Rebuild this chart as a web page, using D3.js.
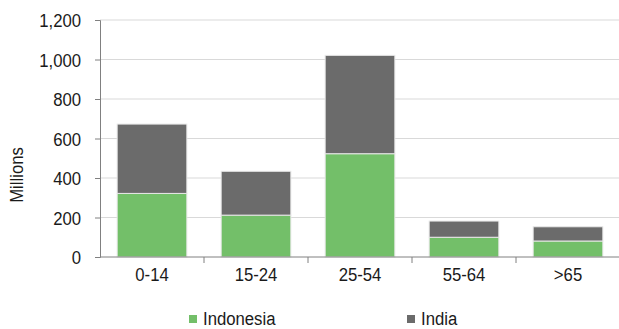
<!DOCTYPE html>
<html>
<head>
<meta charset="utf-8">
<script src="https://cdn.jsdelivr.net/npm/d3@7"></script>
<style>
  body { margin: 0; background: #fff; }
  svg text { font-family: 'Liberation Sans', Arial, sans-serif; font-size: 19px; fill: #1a1a1a; }
</style>
</head>
<body>
<svg id="chart"></svg>
<script>
const categories = ['0-14', '15-24', '25-54', '55-64', '>65'];
const indonesia = [322, 212, 523, 100, 81];
const india = [351, 222, 498, 82, 72];
const seriesNames = ['Indonesia', 'India'];
const yTicks = [0, 200, 400, 600, 800, 1000, 1200];

const colors = { Indonesia: '#73bf69', India: '#6b6b6b' };

const width = 619, height = 329;
const margin = { top: 20, right: 0, bottom: 72, left: 100 };
const innerW = 520;
const innerH = height - margin.top - margin.bottom;
const narrow = 0.88; // squeeze text to mimic a condensed face

const svg = d3.select('#chart').attr('width', width).attr('height', height);
const chart = svg.append('g').attr('transform', `translate(${margin.left},${margin.top})`);

const table = categories.map((c, i) => ({ cat: c, Indonesia: indonesia[i], India: india[i] }));
const stacked = d3.stack().keys(seriesNames)(table);

const x = d3.scaleBand().domain(categories).range([0, innerW]).paddingInner(0.33).paddingOuter(0.165);
const y = d3.scaleLinear().domain([0, 1200]).range([innerH, 0]);

// gridlines
chart.append('g').selectAll('line')
  .data(yTicks.filter(d => d > 0))
  .join('line')
    .attr('x1', 0).attr('x2', innerW)
    .attr('y1', d => y(d)).attr('y2', d => y(d))
    .attr('stroke', '#d9d9d9').attr('stroke-width', 1);

// bars
chart.append('g').selectAll('g')
  .data(stacked)
  .join('g')
    .attr('fill', d => colors[d.key])
  .selectAll('rect')
  .data(d => d)
  .join('rect')
    .attr('x', d => x(d.data.cat))
    .attr('width', x.bandwidth())
    .attr('y', d => y(d[1]))
    .attr('height', d => y(d[0]) - y(d[1]))
    .attr('stroke', '#e8e8e8').attr('stroke-width', 1);

// y axis
const yAxis = d3.axisLeft(y).tickValues(yTicks).tickSize(5)
  .tickFormat(d3.format(','));
const yAxisG = chart.append('g').call(yAxis);
yAxisG.select('.domain').attr('stroke', '#808080');
yAxisG.selectAll('.tick line').attr('stroke', '#808080');
yAxisG.selectAll('text')
    .attr('x', null)
    .attr('dy', '0.35em')
    .attr('fill', null)
    .attr('transform', `translate(-19,0) scale(${narrow},1)`);
yAxisG.attr('font-family', null).attr('font-size', null);

// x axis
const xAxisG = chart.append('g').attr('transform', `translate(0,${innerH})`);
xAxisG.append('line').attr('x1', 0).attr('x2', innerW).attr('y1', 0).attr('y2', 0).attr('stroke', '#808080');
xAxisG.selectAll('.sep')
  .data(categories.slice(1))
  .join('line')
    .attr('class', 'sep')
    .attr('x1', d => x(d) - x.step() * x.paddingInner() / 2)
    .attr('x2', d => x(d) - x.step() * x.paddingInner() / 2)
    .attr('y1', 0).attr('y2', 6)
    .attr('stroke', '#808080');
xAxisG.selectAll('.lbl')
  .data(categories)
  .join('text')
    .attr('class', 'lbl')
    .attr('text-anchor', 'middle')
    .attr('transform', d => `translate(${x(d) + x.bandwidth() / 2},24) scale(${narrow},1)`)
    .text(d => d);

// y label
svg.append('text')
  .attr('transform', `translate(23,175) rotate(-90) scale(${narrow},1)`)
  .attr('text-anchor', 'middle')
  .text('Millions');

// legend
const legendX = [189, 407];
const legend = svg.append('g').selectAll('g')
  .data(seriesNames)
  .join('g')
    .attr('transform', (d, i) => `translate(${legendX[i]},315)`);
legend.append('rect').attr('width', 8).attr('height', 8).attr('fill', d => colors[d]);
legend.append('text')
  .attr('transform', `translate(14,10) scale(${narrow},1)`)
  .text(d => d);
</script>
</body>
</html>
